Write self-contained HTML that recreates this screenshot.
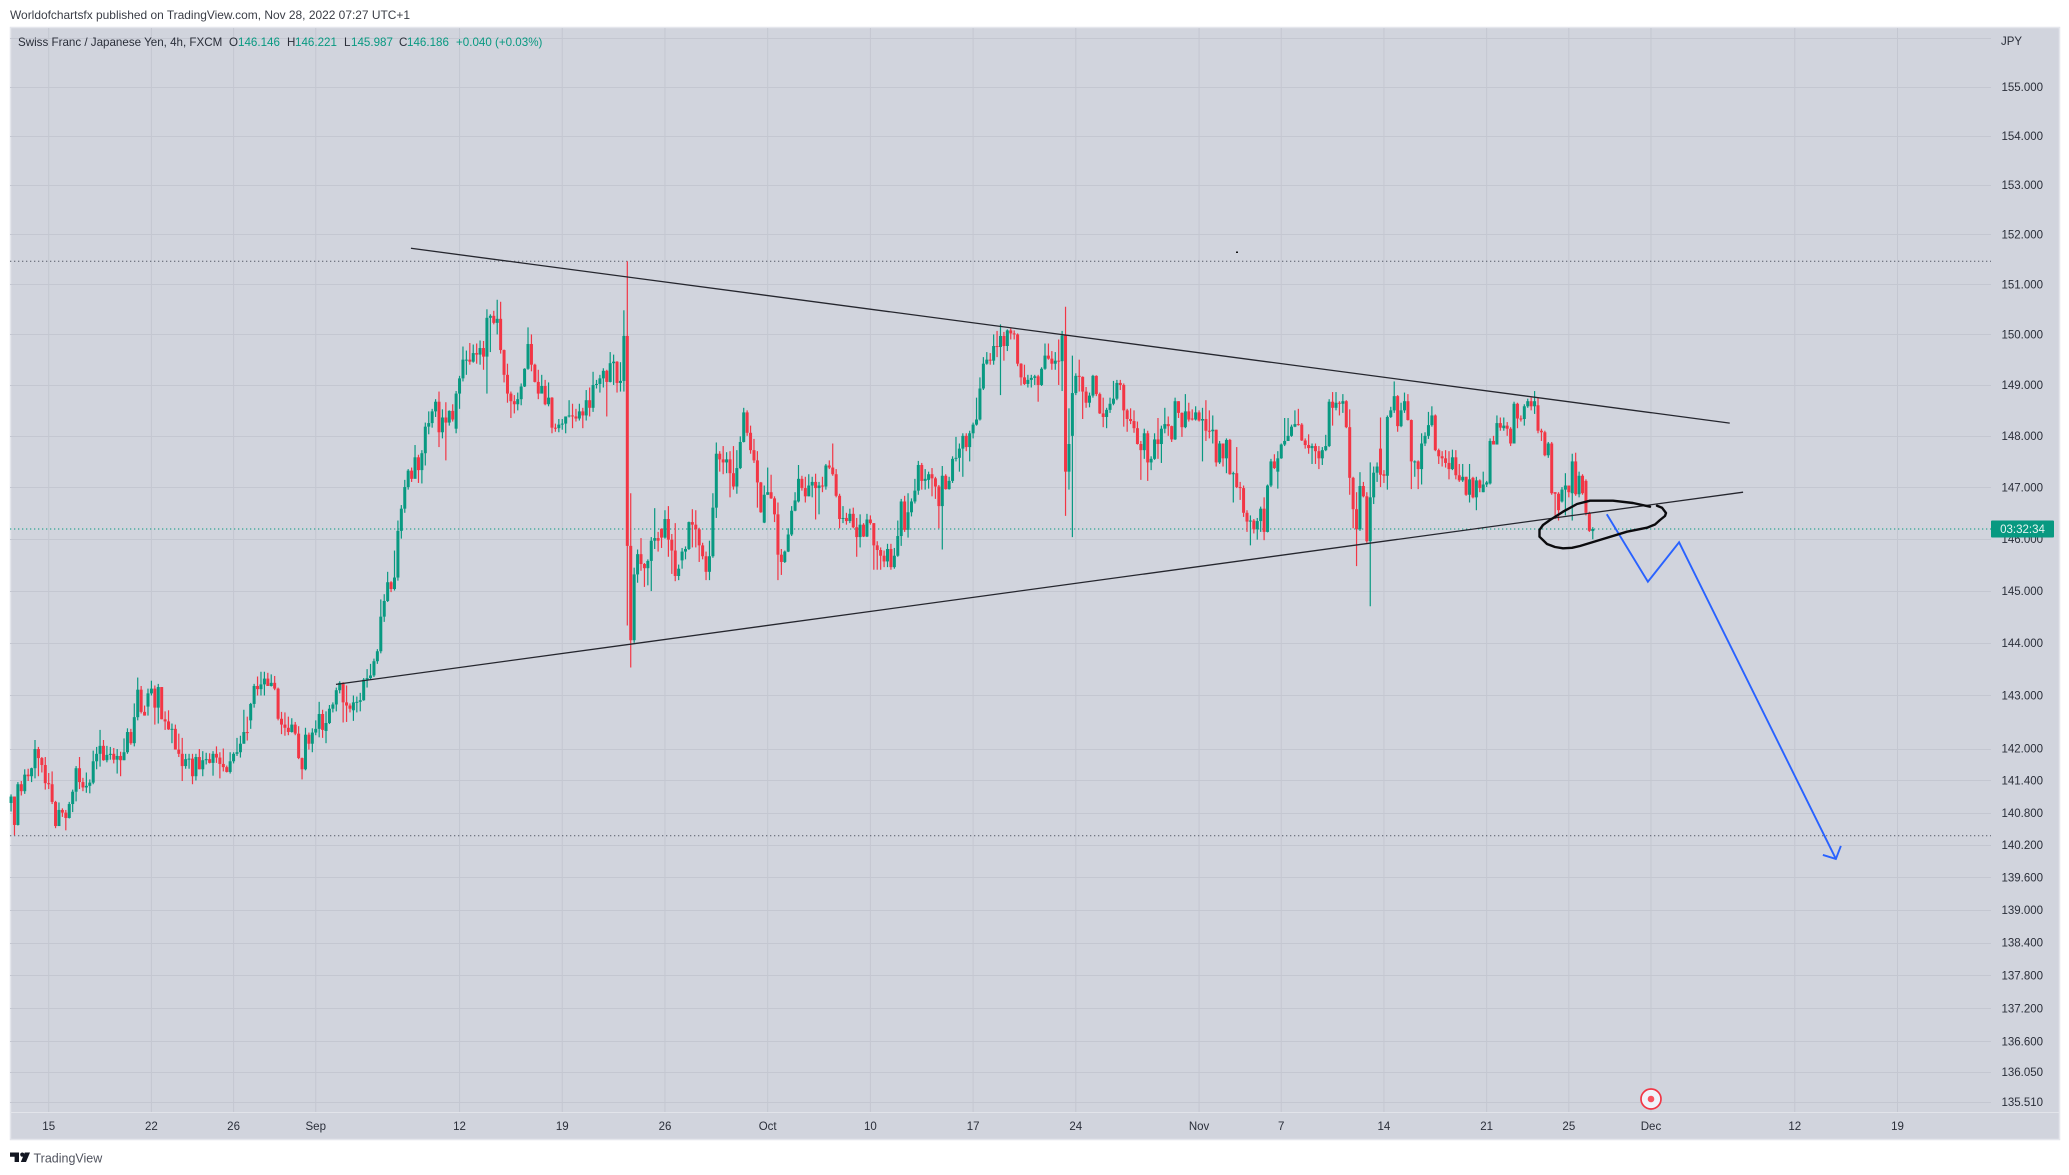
<!DOCTYPE html>
<html lang="en">
<head>
<meta charset="utf-8">
<title>CHF/JPY 4h chart</title>
<style>
html,body{margin:0;padding:0;background:#fff;width:2069px;height:1175px;overflow:hidden}
svg{display:block}
text{font-family:"Liberation Sans",sans-serif}
</style>
</head>
<body>
<svg id="chart" xmlns="http://www.w3.org/2000/svg" width="2069" height="1175" viewBox="0 0 2069 1175">
  <rect x="0" y="0" width="2069" height="1175" fill="#ffffff"/>
  <text x="10" y="19" font-size="11.95" fill="#3a3d46">Worldofchartsfx published on TradingView.com, Nov 28, 2022 07:27 UTC+1</text>
  <rect x="10.5" y="27.5" width="2049" height="1112" fill="#d1d4dd" stroke="#e4e6ec" stroke-width="1.5"/>
  <g id="grid"></g>
  <g id="levels"></g>
  <g id="candles"></g>
  <g id="drawings"></g>
  <polyline fill="none" stroke="#0b0b0e" stroke-width="2.4" stroke-linecap="round" stroke-linejoin="round" points="1650,506.7 1633,503 1613,500.7 1590,500.7 1577,504 1563,511.7 1550,520 1543,525 1539.5,530 1539.5,536.7 1547,544 1555,547 1563,548.3 1572,547.8 1580,546 1603,539 1627,531.7 1647,527.7 1655,524.5 1660,520 1665,516 1666,513 1662,507.7 1657,505.7"/>
  <rect x="1236" y="251.5" width="2" height="1.5" fill="#111"/>
  <line x1="10" y1="1112.5" x2="2059" y2="1112.5" stroke="#e2e4ea" stroke-width="1"/>
  <g id="price-axis"></g>
  <g id="time-axis"></g>
  <text x="2001" y="45" font-size="11.5" fill="#2a2e39">JPY</text>
  <g font-size="11.6">
    <text x="18" y="46" fill="#2a2e39">Swiss Franc / Japanese Yen, 4h, FXCM</text>
    <text x="229" y="46" fill="#2a2e39">O</text>
    <text x="238" y="46" fill="#089981">146.146</text>
    <text x="287" y="46" fill="#2a2e39">H</text>
    <text x="295" y="46" fill="#089981">146.221</text>
    <text x="344" y="46" fill="#2a2e39">L</text>
    <text x="351" y="46" fill="#089981">145.987</text>
    <text x="399" y="46" fill="#2a2e39">C</text>
    <text x="407" y="46" fill="#089981">146.186</text>
    <text x="456" y="46" fill="#089981">+0.040 (+0.03%)</text>
  </g>
  <g>
    <circle cx="1651" cy="1099" r="10" fill="#f0f3fa" stroke="#f23645" stroke-width="1.7"/>
    <circle cx="1651" cy="1099" r="3.3" fill="#f7525f"/>
  </g>
  <g>
    <path fill="#131722" d="M10 1152.5h9v9.5h-4.4v-5.2H10zM30 1152.5l-4 9.5h-5.2l4-9.5z"/>
    <circle cx="22.3" cy="1154.6" r="2.1" fill="#131722"/>
    <text x="33.5" y="1162.5" font-size="12.5" fill="#50535e">TradingView</text>
  </g>
  <g id="countdown"></g>
</svg>
<script>
const opens=[
140.98,141.10,140.57,141.33,141.20,141.51,141.48,141.63,141.99,141.82,
141.69,141.35,141.33,141.00,140.55,140.85,140.80,140.70,140.96,141.19,
141.63,141.37,141.27,141.30,141.36,141.76,141.90,142.05,141.78,141.88,
141.90,141.79,141.86,141.78,141.93,142.31,142.10,142.59,143.11,142.69,
142.79,143.04,143.13,142.77,143.16,142.55,142.51,142.36,142.37,141.98,
141.90,141.67,141.80,141.81,141.48,141.84,141.61,141.78,141.80,141.73,
141.90,141.83,141.71,141.65,141.56,141.76,141.90,141.93,142.09,142.31,
142.53,142.84,143.18,143.12,143.21,143.32,143.18,143.24,143.13,142.56,
142.45,142.39,142.31,142.45,142.28,141.82,141.61,142.26,142.09,142.30,
142.37,142.65,142.33,142.48,142.75,142.83,143.10,143.24,142.87,142.81,
142.72,142.87,142.88,142.91,143.30,143.33,143.38,143.65,143.84,144.50,
144.80,145.16,145.03,145.25,146.15,146.58,147.00,147.32,147.16,147.58,
147.33,147.66,148.18,148.25,148.48,148.67,148.07,148.36,148.26,148.49,
148.14,148.83,149.13,149.49,149.50,149.46,149.63,149.60,149.73,149.56,
150.33,150.37,150.23,150.31,149.69,149.20,148.83,148.68,148.62,148.72,
148.97,149.32,149.81,149.40,149.06,148.83,148.98,148.62,148.75,148.16,
148.15,148.22,148.24,148.38,148.40,148.38,148.34,148.48,148.40,148.70,
148.55,149.00,149.02,149.13,149.28,149.06,149.43,149.46,149.04,149.08,
149.97,145.86,144.05,145.31,145.70,145.51,145.43,145.57,145.96,146.01,
146.19,146.02,146.38,145.98,145.77,145.28,145.58,145.75,145.80,146.32,
146.27,146.18,145.87,145.66,145.36,145.66,146.60,147.65,147.54,147.48,
147.54,147.27,147.01,147.37,147.88,148.46,148.06,147.72,147.52,147.09,
146.31,146.85,146.90,146.78,146.47,145.69,145.55,145.75,146.08,146.54,
146.72,147.16,146.98,146.82,147.03,147.10,146.98,147.03,147.01,147.42,
147.38,147.25,146.83,146.38,146.40,146.34,146.48,146.22,146.03,146.27,
146.04,146.37,146.30,145.87,145.78,145.67,145.56,145.80,145.45,145.67,
146.05,146.72,146.17,146.51,146.72,146.93,147.43,147.12,147.14,147.25,
147.17,147.01,146.63,147.22,146.96,147.12,147.55,147.57,147.75,148.00,
147.78,148.05,148.22,148.32,148.93,149.42,149.50,149.48,149.77,149.75,
149.97,149.77,150.08,150.02,150.00,149.42,149.15,149.02,149.10,149.14,
149.17,149.00,149.32,149.58,149.52,149.42,149.48,149.47,149.98,147.30,
148.00,148.84,149.18,149.16,148.87,148.65,148.79,149.18,148.82,148.44,
148.37,148.51,148.63,148.73,149.04,149.00,148.50,148.33,148.29,148.15,
147.84,147.72,148.05,147.48,147.55,147.93,147.84,148.14,148.23,148.19,
147.93,148.68,148.45,148.17,148.48,148.34,148.32,148.46,148.30,148.33,
148.10,148.09,148.12,147.48,147.85,147.56,147.92,147.25,147.27,147.00,
146.98,146.50,146.33,146.35,146.18,146.34,146.58,146.13,147.03,147.50,
147.30,147.56,147.83,147.90,148.00,148.18,148.23,148.22,147.91,147.82,
147.76,147.80,147.70,147.56,147.72,147.80,148.67,148.55,148.65,148.63,
148.68,148.17,147.18,146.57,146.18,147.02,146.82,145.95,146.80,147.28,
147.75,147.25,147.22,148.37,148.50,148.78,148.19,148.50,148.68,148.31,
147.48,147.50,147.35,147.85,148.00,148.21,148.40,147.72,147.60,147.56,
147.47,147.35,147.58,147.23,147.13,147.20,146.85,147.18,146.80,147.13,
146.90,147.05,147.07,147.90,147.83,148.25,148.15,148.20,148.14,147.85,
148.63,148.34,148.33,148.58,148.68,148.58,148.60,148.10,148.07,147.62,
147.85,146.90,146.87,146.72,146.95,147.03,146.88,147.50,146.86,147.22,
147.12,146.50,146.146];
const highs=[
141.14,141.10,141.37,141.39,141.61,141.62,141.64,142.16,142.03,141.84,
141.84,141.54,141.57,141.02,140.99,140.88,140.85,141.00,141.23,141.67,
141.84,141.45,141.55,141.42,141.96,142.03,142.35,142.16,142.05,142.03,
142.01,141.99,141.94,142.19,142.38,142.37,142.85,143.34,143.18,142.81,
143.13,143.28,143.19,143.22,143.16,142.70,142.72,142.47,142.45,142.28,
142.20,141.90,141.90,141.90,141.90,141.99,141.95,141.92,141.91,141.95,
142.04,141.93,142.00,141.68,141.93,141.93,142.20,142.24,142.73,142.60,
142.86,143.22,143.36,143.45,143.45,143.43,143.40,143.37,143.15,142.69,
142.68,142.60,142.57,142.50,142.42,141.83,142.39,142.30,142.38,142.53,
142.88,142.73,142.70,142.82,142.87,143.15,143.27,143.25,143.19,142.85,
143.00,142.98,143.05,143.33,143.50,143.60,143.70,143.88,144.83,144.93,
145.36,145.18,145.77,146.35,146.65,147.14,147.35,147.38,147.82,147.63,
147.72,148.26,148.48,148.53,148.72,148.87,148.52,148.66,148.50,148.62,
148.88,149.18,149.76,149.68,149.83,149.80,149.82,149.88,149.87,150.50,
150.40,150.47,150.69,150.65,149.70,149.42,148.87,148.80,148.85,149.03,
149.33,150.14,150.00,149.42,149.30,149.20,149.10,149.05,148.76,148.24,
148.33,148.33,148.38,148.70,148.63,148.53,148.63,148.55,148.90,148.95,
149.26,149.10,149.20,149.33,149.30,149.65,149.60,149.47,149.45,150.48,
151.46,146.88,145.44,145.79,146.01,145.53,145.60,146.03,146.59,146.13,
146.20,146.55,146.63,146.09,146.30,145.50,145.82,145.85,146.33,146.57,
146.55,146.21,145.92,145.75,145.96,146.88,147.87,147.70,147.80,147.68,
147.70,147.80,147.72,147.99,148.55,148.50,148.20,147.94,147.70,147.10,
147.03,147.38,147.24,146.82,146.70,145.80,145.77,146.20,146.63,146.90,
147.43,147.22,147.20,147.25,147.20,147.26,147.10,147.20,147.45,147.52,
147.85,147.35,146.87,146.63,146.50,146.58,146.60,146.40,146.47,146.30,
146.48,146.45,146.30,145.95,145.83,145.77,145.90,145.90,145.82,146.35,
146.77,146.83,146.88,146.78,147.16,147.51,147.47,147.35,147.30,147.37,
147.20,147.04,147.41,147.25,147.20,147.60,147.98,147.85,148.05,148.05,
148.10,148.26,148.75,149.15,149.55,149.65,149.63,150.00,150.07,150.20,
150.05,150.10,150.12,150.08,150.02,149.43,149.40,149.20,149.20,149.20,
149.20,149.35,149.82,149.82,149.67,149.65,149.90,150.07,150.55,148.54,
149.58,149.23,149.50,149.17,148.96,148.85,149.20,149.19,148.85,148.75,
148.55,148.75,149.08,149.10,149.10,149.03,148.53,148.54,148.50,148.28,
147.90,148.14,148.10,147.60,148.05,148.35,148.20,148.55,148.38,148.20,
148.75,148.68,148.46,148.82,148.65,148.52,148.58,148.50,148.55,148.70,
148.50,148.40,148.12,147.90,147.85,147.95,147.94,147.30,147.78,147.10,
147.03,146.55,146.45,146.38,146.40,146.62,146.80,147.05,147.55,147.64,
147.70,147.85,148.35,148.35,148.22,148.50,148.53,148.25,147.95,148.03,
147.85,147.85,147.80,147.78,148.02,148.72,148.86,148.86,148.68,148.82,
148.70,148.52,147.20,146.90,147.29,147.10,146.90,147.48,147.40,147.48,
148.36,147.33,148.40,148.57,149.07,148.80,148.65,148.85,148.82,148.32,
147.52,147.52,148.05,148.07,148.47,148.58,148.42,147.75,147.70,147.72,
147.70,147.73,147.72,147.45,147.45,147.20,147.45,147.20,147.20,147.15,
147.30,147.12,147.95,148.00,148.40,148.36,148.36,148.27,148.17,148.67,
148.65,148.40,148.62,148.73,148.75,148.88,148.75,148.14,148.10,147.88,
147.88,146.90,146.90,147.00,147.27,147.00,147.65,147.67,147.30,147.25,
147.15,146.52,146.221];
const lows=[
140.82,140.38,140.56,141.12,141.15,141.39,141.37,141.44,141.48,141.55,
141.23,141.24,140.96,140.51,140.55,140.72,140.47,140.69,140.81,141.01,
141.24,141.20,141.17,141.16,141.33,141.61,141.66,141.77,141.74,141.79,
141.72,141.53,141.48,141.78,141.90,142.07,142.04,142.53,142.66,142.62,
142.62,143.00,142.45,142.47,142.55,142.35,142.35,142.10,141.98,141.84,
141.39,141.62,141.62,141.33,141.40,141.61,141.48,141.70,141.72,141.49,
141.73,141.44,141.57,141.55,141.53,141.72,141.86,141.83,142.09,142.15,
142.37,142.77,143.00,143.00,143.00,143.18,143.17,143.10,142.53,142.27,
142.24,142.25,142.30,142.25,141.80,141.42,141.59,141.98,141.93,142.25,
142.21,142.20,142.10,142.46,142.68,142.70,143.04,142.49,142.50,142.68,
142.52,142.68,142.70,142.90,143.15,143.30,143.35,143.60,143.80,144.40,
144.78,144.97,145.00,145.19,146.00,146.50,146.95,147.10,147.17,147.08,
147.07,147.42,148.03,148.16,148.37,147.78,147.95,147.52,148.20,148.28,
148.05,148.53,149.07,149.20,149.40,149.44,149.42,149.40,149.30,148.83,
149.65,150.20,150.00,149.62,149.05,148.65,148.35,148.44,148.50,148.60,
148.96,149.30,149.27,149.05,148.72,148.85,148.60,148.58,148.05,148.08,
148.07,148.12,148.05,148.36,148.15,148.28,148.30,148.15,148.30,148.38,
148.47,148.93,148.85,148.95,148.38,149.05,149.00,148.85,148.87,148.87,
144.33,143.53,144.00,145.15,145.38,145.07,145.10,144.99,145.80,145.75,
145.82,146.00,145.65,145.32,145.18,145.20,145.42,145.60,145.78,145.83,
145.83,145.55,145.60,145.20,145.20,145.63,146.40,147.30,147.25,147.27,
146.80,146.95,146.87,147.35,147.87,148.00,147.65,147.47,146.60,146.50,
146.30,146.85,146.77,146.32,145.20,145.30,145.53,145.74,146.05,146.53,
146.70,146.93,146.70,146.82,146.80,146.37,146.47,146.90,146.95,147.35,
147.22,146.80,146.20,146.30,146.27,146.30,146.20,145.65,145.83,146.03,
146.03,146.27,145.40,145.40,145.40,145.45,145.45,145.40,145.42,145.65,
145.86,146.13,146.02,146.43,146.68,146.85,146.95,146.95,146.97,146.82,
146.77,146.20,145.79,146.95,146.95,147.08,147.50,147.30,147.20,147.70,
147.50,147.95,148.20,148.30,148.90,149.40,149.40,149.40,149.55,148.80,
149.48,149.67,149.90,149.90,149.37,148.99,149.00,148.95,148.95,149.00,
148.67,148.98,149.30,149.50,149.30,149.30,149.00,148.88,146.44,146.95,
146.03,148.80,148.87,148.33,148.55,148.56,148.75,148.78,148.43,148.17,
148.15,148.45,148.60,148.70,148.90,148.18,148.08,148.23,148.06,147.83,
147.14,147.55,147.12,147.33,147.53,147.55,147.47,148.05,148.00,147.88,
147.92,148.35,147.98,148.15,148.28,148.30,148.30,148.28,147.50,147.90,
147.95,147.85,147.40,147.45,147.40,147.27,147.24,146.70,146.98,146.75,
146.42,146.13,145.87,146.10,145.98,146.13,145.97,146.12,147.00,147.35,
146.97,147.55,147.80,147.90,147.98,148.17,148.20,147.90,147.75,147.65,
147.45,147.45,147.35,147.43,147.70,147.78,148.20,148.50,148.40,148.45,
148.15,146.85,146.20,145.47,146.15,146.80,145.92,144.70,146.67,147.10,
147.00,147.08,146.95,148.35,148.45,148.08,148.17,148.45,148.30,146.96,
147.20,146.96,147.05,147.80,147.94,148.18,147.70,147.45,147.40,147.38,
147.15,147.33,147.15,147.10,147.10,146.83,146.70,146.78,146.55,146.90,
146.90,147.00,147.05,147.83,147.83,148.10,148.10,148.00,147.80,147.85,
148.15,148.28,148.20,148.55,148.50,148.43,148.05,147.90,147.60,147.57,
146.85,146.38,146.35,146.70,146.45,146.80,146.35,146.83,146.80,146.85,
146.45,146.13,145.987];
const closes=[
141.10,140.57,141.33,141.20,141.51,141.48,141.63,141.99,141.82,141.69,
141.35,141.33,141.00,140.55,140.85,140.80,140.70,140.96,141.19,141.63,
141.37,141.27,141.30,141.36,141.76,141.90,142.05,141.78,141.88,141.90,
141.79,141.86,141.78,141.93,142.31,142.10,142.59,143.11,142.69,142.62,
143.04,143.13,142.77,143.16,142.55,142.51,142.36,142.37,141.98,141.90,
141.67,141.80,141.81,141.48,141.84,141.61,141.78,141.80,141.73,141.90,
141.83,141.71,141.65,141.56,141.76,141.90,141.93,142.09,142.31,142.29,
142.84,143.18,143.12,143.21,143.32,143.18,143.24,143.13,142.56,142.45,
142.39,142.31,142.45,142.28,141.82,141.61,142.26,142.09,142.30,142.37,
142.65,142.35,142.48,142.75,142.83,143.10,143.24,142.87,142.81,142.75,
142.87,142.88,142.91,143.30,143.33,143.38,143.65,143.84,144.50,144.80,
145.16,145.03,145.25,146.15,146.58,147.00,147.32,147.16,147.58,147.33,
147.66,148.18,148.25,148.48,148.67,148.07,148.36,148.26,148.49,148.32,
148.83,149.13,149.50,149.50,149.46,149.63,149.60,149.73,149.56,150.33,
150.37,150.23,150.31,149.69,149.20,148.83,148.68,148.62,148.72,148.97,
149.32,149.81,149.40,149.06,148.83,148.98,148.62,148.75,148.16,148.15,
148.22,148.24,148.38,148.40,148.38,148.34,148.48,148.40,148.70,148.55,
149.00,149.02,149.13,149.28,149.06,149.43,149.46,149.04,149.08,149.97,
145.86,144.05,145.31,145.70,145.51,145.43,145.57,145.96,146.01,145.96,
146.02,146.38,145.98,145.77,145.28,145.42,145.75,145.80,146.32,146.27,
146.18,145.87,145.66,145.36,145.66,146.60,147.65,147.54,147.48,147.54,
147.27,147.01,147.37,147.88,148.46,148.06,147.72,147.52,147.09,146.51,
146.85,146.90,146.78,146.47,145.69,145.55,145.75,146.08,146.54,146.74,
147.16,146.98,146.82,147.03,147.10,146.98,147.03,147.01,147.42,147.38,
147.25,146.83,146.38,146.40,146.34,146.48,146.22,146.03,146.27,146.04,
146.37,146.30,145.87,145.78,145.67,145.56,145.80,145.45,145.67,146.05,
146.72,146.17,146.51,146.72,146.93,147.43,147.12,147.16,147.25,147.17,
147.01,146.63,147.22,146.96,147.12,147.55,147.57,147.75,148.00,147.78,
148.05,148.22,148.32,148.93,149.42,149.50,149.48,149.77,149.75,149.97,
149.77,150.08,150.02,150.00,149.42,149.15,149.02,149.10,149.14,149.17,
149.00,149.32,149.58,149.52,149.42,149.48,149.47,149.98,147.30,147.84,
148.84,149.18,149.16,148.87,148.65,148.79,149.18,148.82,148.44,148.37,
148.51,148.63,148.73,149.04,149.00,148.50,148.33,148.29,148.15,147.84,
147.72,148.05,147.48,147.55,147.93,147.84,148.14,148.23,148.19,147.93,
148.68,148.45,148.17,148.48,148.32,148.32,148.46,148.30,148.33,148.10,
148.09,148.12,147.48,147.85,147.56,147.92,147.25,147.27,147.00,146.98,
146.50,146.33,146.35,146.18,146.34,146.58,146.13,147.03,147.50,147.37,
147.56,147.83,147.90,148.00,148.18,148.23,148.22,147.91,147.82,147.76,
147.80,147.70,147.56,147.72,147.80,148.67,148.55,148.65,148.63,148.68,
148.17,147.18,146.57,146.18,147.02,146.82,145.95,146.80,147.28,147.40,
147.24,147.22,148.37,148.50,148.78,148.19,148.50,148.68,148.31,147.50,
147.50,147.35,147.85,148.00,148.21,148.40,147.72,147.60,147.56,147.47,
147.35,147.58,147.23,147.13,147.20,146.85,147.15,146.80,147.13,146.98,
147.05,147.09,147.90,147.83,148.25,148.16,148.20,148.14,147.85,148.63,
148.34,148.33,148.58,148.68,148.58,148.68,148.10,148.07,147.62,147.85,
146.88,146.87,146.55,146.95,147.03,146.90,147.50,146.86,147.22,146.88,
146.50,146.15,146.186];

const priceTicks=[155,154,153,152,151,150,149,148,147,146,145,144,143,142,141.4,140.8,140.2,139.6,139,138.4,137.8,137.2,136.6,136.05,135.51];
const unlabeledPriceTicks=[156];
const timeTickLabels=["15","22","26","Sep","12","19","26","Oct","10","17","24","Nov","7","14","21","25","Dec","12","19"];
const timeTickBars=[11,41,65,89,131,161,191,221,251,281,311,347,371,401,431,455,479,521,551];

const supportResistancePrices=[151.46,140.37];
const lastPrice=146.186;
const countdownText="03:32:34";

const upperTrendBars=[116.8,502];
const upperTrendPrices=[151.72,148.25];
const lowerTrendBars=[94.9,505.9];
const lowerTrendPrices=[143.21,146.90];
const forecastBars=[466.1,478.1,487.2,533];
const forecastPrices=[146.47,145.17,145.93,139.94];

const NS='http://www.w3.org/2000/svg';
const PRICE_TOP=155, Y_TOP=86.7, Y_SCALE=7555;
const X_REF=48.7, BAR_REF=11, BAR_STEP=3.4237;
const PLOT_LEFT=10, PLOT_RIGHT=1991, PLOT_TOP=28, PLOT_BOTTOM=1112;
const GREEN='#089981', RED='#f23645';

function xOf(bar){return X_REF+BAR_STEP*(bar-BAR_REF);}
function yOf(price){return Y_TOP+Y_SCALE*Math.log(PRICE_TOP/price);}
function make(tag,attrs,parent){
  const el=document.createElementNS(NS,tag);
  for(const k in attrs){el.setAttribute(k,attrs[k]);}
  parent.appendChild(el);
  return el;
}

const gridG=document.getElementById('grid');
priceTicks.concat(unlabeledPriceTicks).forEach(function(p){
  const y=Math.round(yOf(p))+0.5;
  const el=make('line',{x1:PLOT_LEFT,y1:y,x2:PLOT_RIGHT,y2:y,stroke:'#c4c7d1','stroke-width':1},gridG);
  
  
});
timeTickBars.forEach(function(b){
  const x=xOf(b);
  const el=make('line',{x1:x,y1:PLOT_TOP,x2:x,y2:PLOT_BOTTOM,stroke:'#c4c7d1','stroke-width':1},gridG);
  
  
});

const levelsG=document.getElementById('levels');
supportResistancePrices.forEach(function(p){
  const y=yOf(p);
  const el=make('line',{x1:PLOT_LEFT,y1:y,x2:PLOT_RIGHT,y2:y,stroke:'#555a68','stroke-width':1,'stroke-dasharray':'1.3 2.7'},levelsG);
  
  
});
const lastLine=make('line',{x1:PLOT_LEFT,y1:yOf(lastPrice),x2:PLOT_RIGHT,y2:yOf(lastPrice),stroke:GREEN,'stroke-width':1,'stroke-dasharray':'1.3 2.7'},levelsG);



const candlesG=document.getElementById('candles');
closes.forEach(function(c,i){
  const o=opens[i];
  const color=c>=o?GREEN:RED;
  const x=xOf(i);
  const wick=make('line',{x1:x,y1:yOf(highs[i]),x2:x,y2:yOf(lows[i]),stroke:color,'stroke-width':1.2},candlesG);
  
  
  const top=yOf(Math.max(o,c));
  const bottom=yOf(Math.min(o,c));
  const body=make('rect',{x:x-1.5,y:top,width:3,height:Math.max(bottom-top,1),fill:color},candlesG);
  
  
});

const drawG=document.getElementById('drawings');
const upperLine=make('line',{x1:xOf(upperTrendBars[0]),y1:yOf(upperTrendPrices[0]),x2:xOf(upperTrendBars[1]),y2:yOf(upperTrendPrices[1]),stroke:'#25262e','stroke-width':1.3},drawG);


const lowerLine=make('line',{x1:xOf(lowerTrendBars[0]),y1:yOf(lowerTrendPrices[0]),x2:xOf(lowerTrendBars[1]),y2:yOf(lowerTrendPrices[1]),stroke:'#25262e','stroke-width':1.3},drawG);


const forecastPoints=forecastBars.map(function(b,i){return xOf(b).toFixed(1)+','+yOf(forecastPrices[i]).toFixed(1);}).join(' ');
const forecast=make('polyline',{points:forecastPoints,fill:'none',stroke:'#2962ff','stroke-width':1.9,'stroke-linejoin':'miter'},drawG);


const tipX=xOf(forecastBars[forecastBars.length-1]);
const tipY=yOf(forecastPrices[forecastPrices.length-1]);
const head=make('polyline',{points:(tipX-13)+','+(tipY-4)+' '+tipX+','+tipY+' '+(tipX+5)+','+(tipY-13),fill:'none',stroke:'#2962ff','stroke-width':1.9},drawG);



const priceAxisG=document.getElementById('price-axis');
priceTicks.forEach(function(p){
  const t=make('text',{x:2001.5,y:yOf(p)+4.2,'font-size':11.5,fill:'#2a2e39'},priceAxisG);
  t.textContent=p.toFixed(3);
  
  
});

const timeAxisG=document.getElementById('time-axis');
timeTickLabels.forEach(function(label,i){
  const t=make('text',{x:xOf(timeTickBars[i]),y:1130,'font-size':11.5,fill:'#2a2e39','text-anchor':'middle'},timeAxisG);
  t.textContent=label;
  
  
});

const tagG=document.getElementById('countdown');
const tagRect=make('rect',{x:1991,y:yOf(lastPrice)-8.5,width:63,height:17,rx:1,fill:GREEN},tagG);


const tagText=make('text',{x:2022.5,y:yOf(lastPrice)+4,'font-size':11.5,fill:'#e6f5f1','text-anchor':'middle'},tagG);
tagText.textContent=countdownText;


</script>
</body>
</html>
